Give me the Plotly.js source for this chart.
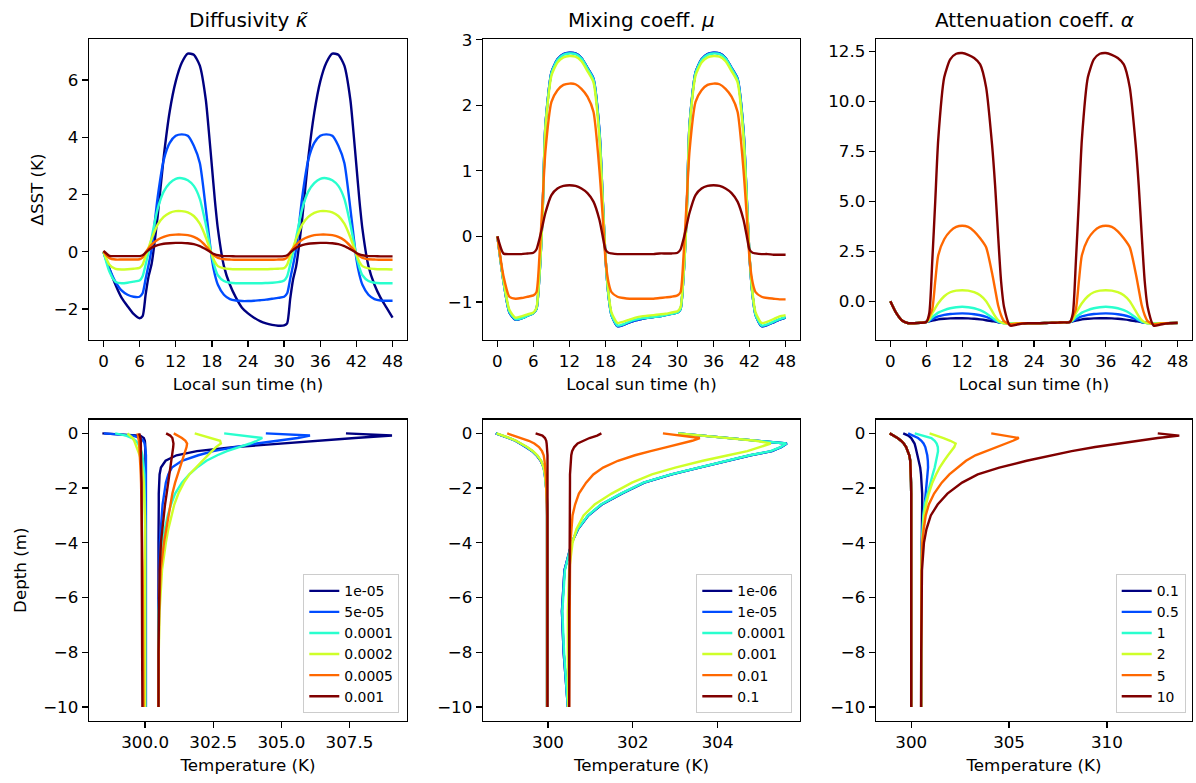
<!DOCTYPE html>
<html>
<head>
<meta charset="utf-8">
<script src="https://cdn.plot.ly/plotly-3.0.1.min.js"></script>
<style>html,body{margin:0;padding:0;background:#fff;}#chart{width:1196px;height:783px;}</style>
</head>
<body>
<div id="chart"></div>
<script>
// ---------- shared axes data ----------
const hours = [0,1,2,3,4,5,6,6.5,7,7.5,8,9,10,11,12,13,14,15,16,17,17.5,18,18.5,19,20,21,22,23,24,25,26,27,28,29,30,30.5,31,31.5,32,33,34,35,36,37,38,39,40,41,41.5,42,42.5,43,44,45,46,47,48];
const depth = [0,-0.08,-0.17,-0.27,-0.37,-0.5,-0.65,-0.8,-1.0,-1.25,-1.5,-1.8,-2.2,-2.6,-3.0,-3.5,-4.0,-5.0,-6.5,-8.0,-10.0];

const colors = ['#000080','#004cff','#29ffce','#ceff29','#ff6800','#800000'];
const kappaLabels = ['1e-05','5e-05','0.0001','0.0002','0.0005','0.001'];
const muLabels = ['1e-06','1e-05','0.0001','0.001','0.01','0.1'];
const alphaLabels = ['0.1','0.5','1','2','5','10'];

// ---------- ΔSST time series: diffusivity ----------
const sstKappa1e5 = [0,-0.6,-1.15,-1.6,-1.9,-2.17,-2.32, -2.25,-1.5,-0.85,-0.42, 1.25,3.3,4.9,5.95,6.6,6.92,6.88,6.5,5.3, 4.2,3.0,1.8,0.8, -0.5,-1.15,-1.6,-1.95,-2.15,-2.3,-2.42,-2.5,-2.55,-2.58,-2.57, -2.5,-1.65,-0.95,-0.5, 1.15,3.25,4.85,5.95,6.6,6.92,6.88,6.5,5.3, 4.2,3.0,1.8,0.8, -0.5,-1.15,-1.6,-1.95,-2.3];
const sstKappa5e5 = [0,-0.6,-1.05,-1.35,-1.5,-1.57,-1.57, -1.45,-0.95,-0.45,0.1, 1.9,3.2,3.8,4.05,4.1,4.05,3.7,3.1,1.5, 0.6,-0.25,-0.8,-1.15, -1.5,-1.65,-1.7,-1.72,-1.72,-1.71,-1.69,-1.67,-1.64,-1.61,-1.57, -1.45,-0.95,-0.45,0.1, 1.9,3.2,3.8,4.05,4.1,4.05,3.7,3.1,1.5, 0.6,-0.25,-0.8,-1.15, -1.5,-1.65,-1.7,-1.71,-1.71];
const sstKappa1e4 = [0,-0.7,-1.05,-1.1,-1.08,-1.04,-1.0, -0.85,-0.45,0.0,0.5, 1.5,2.1,2.4,2.55,2.57,2.5,2.3,1.85,0.95, 0.4,-0.15,-0.55,-0.82, -1.02,-1.08,-1.1,-1.1,-1.1,-1.1,-1.1,-1.09,-1.08,-1.06,-1.0, -0.85,-0.45,0.0,0.5, 1.5,2.1,2.4,2.55,2.57,2.5,2.3,1.85,0.95, 0.4,-0.15,-0.55,-0.82, -1.02,-1.08,-1.1,-1.1,-1.1];
const sstKappa2e4 = [0,-0.45,-0.6,-0.62,-0.61,-0.59,-0.56, -0.45,-0.15,0.15,0.45, 0.95,1.22,1.36,1.42,1.42,1.38,1.25,0.98,0.5, 0.2,-0.1,-0.35,-0.5, -0.58,-0.6,-0.61,-0.61,-0.61,-0.61,-0.61,-0.61,-0.6,-0.59,-0.57, -0.45,-0.15,0.15,0.45, 0.95,1.22,1.36,1.42,1.42,1.38,1.25,0.98,0.5, 0.2,-0.1,-0.35,-0.5, -0.58,-0.6,-0.61,-0.61,-0.62];
const sstKappa5e4 = [0,-0.22,-0.27,-0.27,-0.27,-0.27,-0.26, -0.2,-0.02,0.12,0.25, 0.42,0.52,0.58,0.6,0.6,0.58,0.52,0.4,0.2, 0.08,-0.05,-0.15,-0.21, -0.26,-0.27,-0.28,-0.28,-0.28,-0.28,-0.28,-0.28,-0.28,-0.27,-0.26, -0.2,-0.02,0.12,0.25, 0.42,0.52,0.58,0.6,0.6,0.58,0.52,0.4,0.2, 0.08,-0.05,-0.15,-0.21, -0.26,-0.27,-0.28,-0.28,-0.28];
const sstKappa1e3 = [0.03,-0.14,-0.15,-0.15,-0.15,-0.15,-0.15, -0.12,-0.03,0.06,0.14, 0.23,0.28,0.3,0.31,0.31,0.3,0.27,0.2,0.09, 0.03,-0.04,-0.09,-0.12, -0.15,-0.15,-0.16,-0.16,-0.16,-0.16,-0.16,-0.16,-0.16,-0.16,-0.15, -0.12,-0.03,0.06,0.14, 0.23,0.28,0.3,0.31,0.31,0.3,0.27,0.2,0.09, 0.03,-0.04,-0.09,-0.12, -0.15,-0.15,-0.16,-0.16,-0.16];

// ---------- ΔSST time series: mixing coefficient ----------
const sstMu1e6 = [0,-0.68,-1.16,-1.27,-1.25,-1.21,-1.17, -1.11,-0.6,0.3,1.7, 2.5,2.7,2.78,2.8,2.79,2.72,2.57,2.4,1.6, 0.65,-0.32,-0.9,-1.2, -1.37,-1.35,-1.31,-1.28,-1.26,-1.24,-1.23,-1.22,-1.2,-1.18,-1.16, -1.11,-0.6,0.3,1.7, 2.5,2.7,2.78,2.8,2.79,2.72,2.57,2.4,1.6, 0.65,-0.32,-0.9,-1.2, -1.37,-1.35,-1.31,-1.27,-1.24];
const sstMu1e5 = [0,-0.68,-1.16,-1.27,-1.25,-1.21,-1.17, -1.11,-0.6,0.3,1.7, 2.5,2.7,2.78,2.8,2.79,2.72,2.57,2.41,1.61, 0.65,-0.32,-0.9,-1.2, -1.37,-1.35,-1.31,-1.28,-1.26,-1.24,-1.23,-1.22,-1.2,-1.18,-1.16, -1.11,-0.6,0.3,1.7, 2.5,2.7,2.78,2.8,2.79,2.72,2.57,2.41,1.61, 0.65,-0.32,-0.9,-1.2, -1.37,-1.35,-1.31,-1.27,-1.24];
const sstMu1e4 = [0,-0.68,-1.15,-1.26,-1.25,-1.21,-1.17, -1.11,-0.6,0.29,1.69, 2.49,2.69,2.77,2.79,2.78,2.71,2.56,2.39,1.58, 0.64,-0.32,-0.9,-1.2, -1.36,-1.34,-1.3,-1.27,-1.25,-1.24,-1.23,-1.22,-1.2,-1.18,-1.16, -1.11,-0.6,0.29,1.69, 2.49,2.69,2.77,2.79,2.78,2.71,2.56,2.39,1.58, 0.64,-0.32,-0.9,-1.2, -1.36,-1.34,-1.3,-1.26,-1.23];
const sstMu1e3 = [0,-0.66,-1.12,-1.24,-1.22,-1.19,-1.16, -1.09,-0.58,0.25,1.65, 2.45,2.65,2.73,2.75,2.74,2.67,2.52,2.35,1.5, 0.6,-0.3,-0.86,-1.16, -1.32,-1.3,-1.27,-1.24,-1.22,-1.21,-1.2,-1.19,-1.18,-1.16,-1.14, -1.08,-0.58,0.25,1.65, 2.45,2.65,2.73,2.75,2.74,2.67,2.52,2.35,1.5, 0.6,-0.3,-0.86,-1.16, -1.32,-1.3,-1.26,-1.22,-1.2];
const sstMu1e2 = [0,-0.6,-0.92,-0.95,-0.94,-0.92,-0.9, -0.85,-0.3,0.5,1.3, 2.05,2.23,2.31,2.33,2.32,2.25,2.13,1.9,1.0, 0.35,-0.35,-0.7,-0.85, -0.92,-0.94,-0.95,-0.95,-0.95,-0.95,-0.95,-0.94,-0.93,-0.92,-0.9, -0.85,-0.3,0.5,1.3, 2.05,2.23,2.31,2.33,2.32,2.25,2.13,1.9,1.0, 0.35,-0.35,-0.7,-0.85, -0.92,-0.94,-0.95,-0.96,-0.96];
const sstMu1e1 = [0,-0.26,-0.27,-0.27,-0.27,-0.26,-0.25, -0.2,-0.04,0.16,0.36, 0.63,0.73,0.77,0.78,0.77,0.73,0.66,0.53,0.25, 0.02,-0.2,-0.25,-0.26, -0.27,-0.27,-0.27,-0.27,-0.27,-0.27,-0.27,-0.26,-0.26,-0.26,-0.25, -0.2,-0.04,0.16,0.36, 0.63,0.73,0.77,0.78,0.77,0.73,0.66,0.53,0.25, 0.02,-0.2,-0.25,-0.26, -0.27,-0.27,-0.28,-0.28,-0.28];

// ---------- ΔSST time series: attenuation coefficient ----------
const sstAlpha01 = [0,-0.6,-0.98,-1.1,-1.1,-1.08,-1.04, -1.0,-0.97,-0.94,-0.91, -0.88,-0.86,-0.85,-0.85,-0.86,-0.88,-0.91,-0.95,-1.0, -1.02,-1.05,-1.07,-1.08, -1.1,-1.1,-1.1,-1.1,-1.1,-1.1,-1.09,-1.08,-1.07,-1.06,-1.04, -1.0,-0.97,-0.94,-0.91, -0.88,-0.86,-0.85,-0.85,-0.86,-0.88,-0.91,-0.95,-1.0, -1.02,-1.05,-1.07,-1.08, -1.1,-1.1,-1.1,-1.09,-1.09];
const sstAlpha05 = [0,-0.6,-0.98,-1.1,-1.1,-1.08,-1.04, -0.98,-0.9,-0.82,-0.76, -0.68,-0.64,-0.62,-0.61,-0.62,-0.65,-0.7,-0.78,-0.9, -0.97,-1.03,-1.07,-1.09, -1.1,-1.1,-1.1,-1.1,-1.1,-1.1,-1.09,-1.08,-1.07,-1.06,-1.04, -0.98,-0.9,-0.82,-0.76, -0.68,-0.64,-0.62,-0.61,-0.62,-0.65,-0.7,-0.78,-0.9, -0.97,-1.03,-1.07,-1.09, -1.1,-1.1,-1.1,-1.09,-1.09];
const sstAlpha1 = [0,-0.6,-0.98,-1.1,-1.1,-1.08,-1.04, -0.95,-0.8,-0.68,-0.57, -0.44,-0.35,-0.3,-0.28,-0.3,-0.35,-0.45,-0.6,-0.82, -0.93,-1.02,-1.07,-1.1, -1.1,-1.1,-1.1,-1.1,-1.1,-1.1,-1.09,-1.08,-1.07,-1.06,-1.04, -0.95,-0.8,-0.68,-0.57, -0.44,-0.35,-0.3,-0.28,-0.3,-0.35,-0.45,-0.6,-0.82, -0.93,-1.02,-1.07,-1.1, -1.1,-1.1,-1.1,-1.09,-1.09];
const sstAlpha2 = [0,-0.6,-0.98,-1.1,-1.1,-1.08,-1.04, -0.9,-0.6,-0.35,-0.1, 0.25,0.45,0.53,0.55,0.53,0.45,0.3,0.0,-0.5, -0.75,-0.95,-1.05,-1.1, -1.12,-1.1,-1.1,-1.1,-1.1,-1.1,-1.09,-1.08,-1.07,-1.06,-1.04, -0.9,-0.6,-0.35,-0.1, 0.25,0.45,0.53,0.55,0.53,0.45,0.3,0.0,-0.5, -0.75,-0.95,-1.05,-1.1, -1.12,-1.1,-1.1,-1.09,-1.09];
const sstAlpha5 = [0,-0.6,-0.98,-1.1,-1.1,-1.08,-1.04, -0.75,-0.4,1.0,2.3, 3.1,3.5,3.72,3.78,3.72,3.5,3.15,2.7,1.4, 0.6,-0.2,-0.7,-1.0, -1.15,-1.12,-1.1,-1.1,-1.1,-1.1,-1.09,-1.08,-1.07,-1.06,-1.04, -0.75,-0.4,1.0,2.3, 3.1,3.5,3.72,3.78,3.72,3.5,3.15,2.7,1.4, 0.6,-0.2,-0.7,-1.0, -1.15,-1.12,-1.1,-1.09,-1.09];
const sstAlpha10 = [0,-0.6,-0.98,-1.1,-1.1,-1.08,-1.04, -0.6,2.0,5.0,8.1, 11.2,12.1,12.38,12.42,12.33,12.17,11.85,10.7,7.8, 5.8,3.3,1.0,-0.3, -1.22,-1.18,-1.12,-1.1,-1.1,-1.1,-1.09,-1.08,-1.07,-1.06,-1.04, -0.6,2.0,5.0,8.1, 11.2,12.1,12.38,12.42,12.33,12.17,11.85,10.7,7.8, 5.8,3.3,1.0,-0.3, -1.22,-1.18,-1.12,-1.1,-1.08];

// ---------- temperature profiles: diffusivity (night / day) ----------
const profKappaNight1e5 = [298.43,299.82,299.95,299.99,300.0,300.01,300.01,300.01,300.01,300.01,300.01,300.01,300.01,300.01,300.01,300.01,300.01,300.01,300.01,300.01,300.01];
const profKappaNight5e5 = [298.49,299.55,299.82,299.93,299.98,300.01,300.02,300.03,300.03,300.03,300.03,300.03,300.03,300.03,300.03,300.03,300.03,300.03,300.03,300.03,300.03];
const profKappaNight1e4 = [298.9,299.3,299.52,299.66,299.74,299.8,299.86,299.9,299.93,299.95,299.97,299.98,299.99,300.0,300.0,300.0,300.0,300.0,300.0,300.0,300.0];
const profKappaNight2e4 = [299.35,299.46,299.54,299.6,299.64,299.69,299.75,299.8,299.85,299.89,299.92,299.95,299.97,299.98,299.99,300.0,300.0,300.0,300.0,300.0,300.0];
const profKappaNight5e4 = [299.72,299.74,299.76,299.77,299.78,299.79,299.8,299.81,299.82,299.83,299.84,299.85,299.86,299.87,299.88,299.89,299.9,299.91,299.92,299.93,299.94];
const profKappaNight1e3 = [299.78,299.81,299.83,299.84,299.84,299.85,299.85,299.86,299.86,299.86,299.86,299.87,299.87,299.87,299.87,299.88,299.88,299.88,299.89,299.89,299.9];
const profKappaDay1e5 = [307.37,309.06,307.7,306.3,305.0,303.3,301.9,301.15,300.75,300.58,300.53,300.51,300.5,300.5,300.49,300.49,300.49,300.49,300.49,300.49,300.49];
const profKappaDay5e5 = [304.43,306.05,305.6,304.8,304.1,303.3,302.5,301.95,301.35,300.98,300.85,300.76,300.69,300.64,300.61,300.57,300.54,300.52,300.5,300.49,300.49];
const profKappaDay1e4 = [302.9,303.6,304.3,304.1,303.85,303.45,303.0,302.65,302.25,301.9,301.62,301.35,301.1,300.95,300.83,300.72,300.64,300.55,300.5,300.49,300.49];
const profKappaDay2e4 = [301.82,302.1,302.45,302.75,302.78,302.6,302.45,302.3,302.1,301.85,301.62,301.42,301.22,301.07,300.96,300.85,300.76,300.62,300.53,300.5,300.49];
const profKappaDay5e4 = [301.05,301.2,301.35,301.48,301.54,301.52,301.47,301.42,301.36,301.28,301.2,301.1,301.0,300.93,300.86,300.77,300.69,300.57,300.51,300.5,300.49];
const profKappaDay1e3 = [300.77,300.92,301.0,301.03,301.04,301.03,301.01,300.99,300.97,300.93,300.9,300.85,300.79,300.73,300.68,300.62,300.58,300.53,300.5,300.49,300.49];

// ---------- temperature profiles: mixing coefficient ----------
const profMuNight1e6 = [298.77,298.93,299.08,299.23,299.35,299.49,299.63,299.73,299.83,299.9,299.93,299.95,299.97,299.98,299.98,299.98,299.98,299.98,299.98,299.98,299.98];
const profMuNight1e5 = [298.77,298.94,299.09,299.24,299.35,299.49,299.63,299.74,299.83,299.9,299.93,299.95,299.97,299.98,299.98,299.98,299.98,299.98,299.98,299.98,299.98];
const profMuNight1e4 = [298.78,298.94,299.09,299.24,299.36,299.5,299.64,299.74,299.84,299.9,299.93,299.95,299.97,299.98,299.98,299.98,299.98,299.98,299.98,299.98,299.98];
const profMuNight1e3 = [298.79,298.95,299.1,299.25,299.37,299.51,299.65,299.75,299.84,299.9,299.93,299.95,299.97,299.98,299.98,299.98,299.98,299.98,299.98,299.98,299.98];
const profMuNight1e2 = [299.04,299.2,299.37,299.55,299.68,299.79,299.86,299.9,299.92,299.94,299.95,299.96,299.97,299.98,299.98,299.98,299.98,299.98,299.98,299.98,299.98];
const profMuNight1e1 = [299.71,299.87,299.93,299.96,299.97,299.98,299.99,299.99,299.99,299.99,299.99,299.99,299.99,299.99,299.99,299.99,299.99,299.99,299.99,299.99,299.99];
const profMuDay1e6 = [303.07,303.62,304.2,304.95,305.63,305.5,305.28,304.78,304.22,303.57,302.92,302.27,301.74,301.27,300.95,300.71,300.56,300.39,300.33,300.37,300.47];
const profMuDay1e5 = [303.07,303.62,304.2,304.95,305.63,305.5,305.27,304.77,304.21,303.56,302.91,302.26,301.73,301.26,300.95,300.7,300.56,300.39,300.33,300.37,300.47];
const profMuDay1e4 = [303.07,303.62,304.2,304.95,305.62,305.48,305.25,304.75,304.2,303.55,302.9,302.25,301.72,301.25,300.94,300.7,300.56,300.4,300.34,300.38,300.47];
const profMuDay1e3 = [303.07,303.6,304.2,304.9,305.25,305.0,304.7,304.25,303.65,303.0,302.45,301.98,301.5,301.1,300.84,300.67,300.58,300.5,300.47,300.47,300.48];
const profMuDay1e2 = [302.71,303.1,303.58,303.4,303.12,302.8,302.42,302.05,301.65,301.3,301.07,300.9,300.73,300.64,300.58,300.55,300.53,300.52,300.51,300.5,300.5];
const profMuDay1e1 = [301.26,301.16,300.98,300.82,300.7,300.62,300.57,300.55,300.54,300.53,300.52,300.52,300.52,300.52,300.51,300.51,300.51,300.51,300.5,300.5,300.5];

// ---------- temperature profiles: attenuation coefficient ----------
const profAlphaNight = [298.9,299.1,299.3,299.48,299.62,299.74,299.83,299.9,299.95,299.97,299.98,299.99,300.0,300.0,300.0,300.0,300.0,300.0,300.0,300.0,300.0];
const profAlphaDay01 = [299.59,299.85,300.0,300.1,300.17,300.22,300.27,300.33,300.39,300.46,300.5,300.54,300.56,300.56,300.55,300.54,300.53,300.52,300.51,300.51,300.51];
const profAlphaDay05 = [299.84,300.12,300.35,300.52,300.63,300.72,300.78,300.82,300.85,300.86,300.83,300.79,300.72,300.66,300.61,300.57,300.55,300.52,300.51,300.51,300.51];
const profAlphaDay1 = [300.18,300.6,301.03,301.2,301.3,301.36,301.37,301.33,301.28,301.2,301.1,300.98,300.82,300.69,300.62,300.57,300.55,300.52,300.51,300.51,300.51];
const profAlphaDay2 = [300.94,301.3,301.65,302.0,302.27,302.2,302.06,301.88,301.68,301.45,301.27,301.08,300.9,300.76,300.66,300.6,300.56,300.52,300.51,300.51,300.51];
const profAlphaDay5 = [304.09,304.8,305.5,305.2,304.85,304.35,303.8,303.28,302.8,302.35,301.95,301.56,301.17,300.9,300.74,300.64,300.57,300.53,300.51,300.51,300.51];
const profAlphaDay10 = [312.6,313.7,312.6,311.6,310.6,309.4,308.2,307.2,305.9,304.5,303.4,302.6,301.85,301.35,301.0,300.78,300.65,300.55,300.52,300.51,300.5];

// ---------- build traces ----------
const LW = 2.4;
const traces = [];
function addTop(xa, ya, series) {
  series.forEach((s, i) => traces.push({
    x: hours, y: s, xaxis: xa, yaxis: ya, type: 'scatter', mode: 'lines',
    line: {color: colors[i], width: LW, shape: 'spline', smoothing: 0.6}, showlegend: false, hoverinfo: 'skip'
  }));
}
function addBottom(xa, ya, legendId, night, day, labels) {
  labels.forEach((lab, i) => {
    traces.push({x: night[i], y: depth, xaxis: xa, yaxis: ya, type: 'scatter', mode: 'lines',
      line: {color: colors[i], width: LW}, showlegend: false, legendgroup: legendId + i,
      legend: legendId, name: lab, hoverinfo: 'skip'});
    traces.push({x: day[i], y: depth, xaxis: xa, yaxis: ya, type: 'scatter', mode: 'lines',
      line: {color: colors[i], width: LW}, showlegend: true, legendgroup: legendId + i,
      legend: legendId, name: lab, hoverinfo: 'skip'});
  });
}
addTop('x', 'y', [sstKappa1e5, sstKappa5e5, sstKappa1e4, sstKappa2e4, sstKappa5e4, sstKappa1e3]);
addTop('x2', 'y2', [sstMu1e6, sstMu1e5, sstMu1e4, sstMu1e3, sstMu1e2, sstMu1e1]);
addTop('x3', 'y3', [sstAlpha01, sstAlpha05, sstAlpha1, sstAlpha2, sstAlpha5, sstAlpha10]);
addBottom('x4', 'y4', 'legend',
  [profKappaNight1e5, profKappaNight5e5, profKappaNight1e4, profKappaNight2e4, profKappaNight5e4, profKappaNight1e3],
  [profKappaDay1e5, profKappaDay5e5, profKappaDay1e4, profKappaDay2e4, profKappaDay5e4, profKappaDay1e3], kappaLabels);
addBottom('x5', 'y5', 'legend2',
  [profMuNight1e6, profMuNight1e5, profMuNight1e4, profMuNight1e3, profMuNight1e2, profMuNight1e1],
  [profMuDay1e6, profMuDay1e5, profMuDay1e4, profMuDay1e3, profMuDay1e2, profMuDay1e1], muLabels);
addBottom('x6', 'y6', 'legend3',
  [profAlphaNight, profAlphaNight, profAlphaNight, profAlphaNight, profAlphaNight, profAlphaNight],
  [profAlphaDay01, profAlphaDay05, profAlphaDay1, profAlphaDay2, profAlphaDay5, profAlphaDay10], alphaLabels);

// ---------- layout ----------
const W = 1196, H = 783;
const FONT = 'DejaVu Sans, Liberation Sans, sans-serif';
const FS = 16.7;
const colDom = [[89/W, 407/W], [483/W, 800/W], [876/W, 1192/W]];
const topDom = [1 - 340/H, 1 - 39/H];
const botDom = [1 - 720.7/H, 1 - 419.7/H];

function axis(extra) {
  return Object.assign({
    showgrid: false, zeroline: false, showline: true, mirror: true,
    linecolor: '#000', linewidth: 1.3, ticks: 'outside', ticklen: 6, tickwidth: 1.3,
    tickcolor: '#000', tickfont: {family: FONT, size: FS, color: '#000'},
    automargin: false, fixedrange: true
  }, extra);
}
const xTitleTop = {text: 'Local sun time (h)', font: {family: FONT, size: FS, color: '#000'}, standoff: 8};
const xTitleBot = {text: 'Temperature (K)', font: {family: FONT, size: FS, color: '#000'}, standoff: 8};

function legendAt(xpx) {
  return {x: xpx / W, y: 1 - 713.3 / H, xanchor: 'right', yanchor: 'bottom',
    bgcolor: 'rgba(255,255,255,0.8)', bordercolor: '#cccccc', borderwidth: 1,
    font: {family: FONT, size: 13.9, color: '#000'}, traceorder: 'normal'};
}

const layout = {
  width: W, height: H, margin: {l: 0, r: 0, t: 0, b: 0},
  paper_bgcolor: '#fff', plot_bgcolor: '#fff',
  font: {family: FONT, color: '#000'},
  xaxis:  axis({domain: colDom[0], anchor: 'y',  range: [-2.4, 50.4], tick0: 0, dtick: 6, title: xTitleTop}),
  yaxis:  axis({domain: topDom, anchor: 'x',  range: [-3.08, 7.43], tick0: 0, dtick: 2,
           title: {text: 'ΔSST (K)', font: {family: FONT, size: FS, color: '#000'}, standoff: 6}}),
  xaxis2: axis({domain: colDom[1], anchor: 'y2', range: [-2.4, 50.4], tick0: 0, dtick: 6, title: xTitleTop}),
  yaxis2: axis({domain: topDom, anchor: 'x2', range: [-1.58, 3.01], tick0: 0, dtick: 1}),
  xaxis3: axis({domain: colDom[2], anchor: 'y3', range: [-2.4, 50.4], tick0: 0, dtick: 6, title: xTitleTop}),
  yaxis3: axis({domain: topDom, anchor: 'x3', range: [-1.94, 13.12], tick0: 0, dtick: 2.5, tickformat: '.1f'}),
  xaxis4: axis({domain: colDom[0], anchor: 'y4', range: [297.94, 309.61], tick0: 300, dtick: 2.5, tickformat: '.1f', title: xTitleBot}),
  yaxis4: axis({domain: botDom, anchor: 'x4', range: [-10.5, 0.5], tick0: 0, dtick: 2,
           title: {text: 'Depth (m)', font: {family: FONT, size: FS, color: '#000'}, standoff: 12}}),
  xaxis5: axis({domain: colDom[1], anchor: 'y5', range: [298.47, 305.94], tick0: 300, dtick: 2, title: xTitleBot}),
  yaxis5: axis({domain: botDom, anchor: 'x5', range: [-10.5, 0.5], tick0: 0, dtick: 2}),
  xaxis6: axis({domain: colDom[2], anchor: 'y6', range: [298.2, 314.35], tick0: 300, dtick: 5, title: xTitleBot}),
  yaxis6: axis({domain: botDom, anchor: 'x6', range: [-10.5, 0.5], tick0: 0, dtick: 2}),
  legend: legendAt(399.3),
  legend2: legendAt(792.3),
  legend3: legendAt(1185.7),
  annotations: [
    {text: 'Diffusivity <i>κ̃</i>', x: (colDom[0][0] + colDom[0][1]) / 2, y: 1 - 20/H},
    {text: 'Mixing coeff. <i>μ</i>', x: (colDom[1][0] + colDom[1][1]) / 2, y: 1 - 20/H},
    {text: 'Attenuation coeff. <i>α</i>', x: (colDom[2][0] + colDom[2][1]) / 2, y: 1 - 20/H}
  ].map(a => Object.assign(a, {xref: 'paper', yref: 'paper', xanchor: 'center', yanchor: 'middle',
        showarrow: false, font: {family: FONT, size: 20, color: '#000'}})),
  showlegend: true
};

Plotly.newPlot('chart', traces, layout, {staticPlot: true, displayModeBar: false});
</script>
</body>
</html>
